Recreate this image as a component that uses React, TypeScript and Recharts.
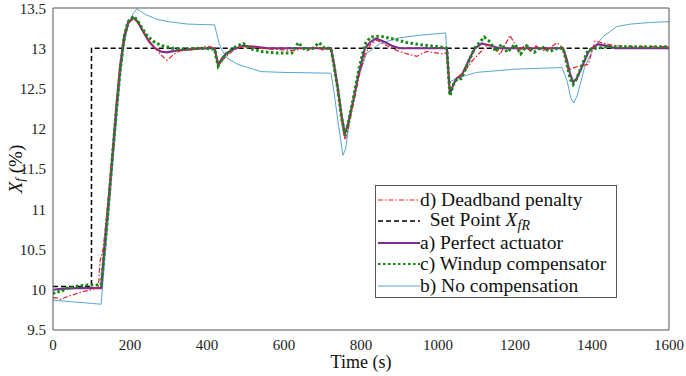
import React from 'react';
import { LineChart, Line, XAxis, YAxis, Legend } from 'recharts';

const xTicks = [0, 200, 400, 600, 800, 1000, 1200, 1400, 1600];
const yTicks = [9.5, 10, 10.5, 11, 11.5, 12, 12.5, 13, 13.5];

// set point X_fR
const setPointTime = [0, 100, 100, 1600];
const setPointValue = [10.04, 10.04, 13, 13];

// a) perfect actuator
const perfectTime = [0, 20, 60, 100, 125, 135, 145, 155, 165, 175, 185, 195, 208, 220, 235, 250, 265, 280, 295, 320, 360, 400, 420, 424, 429, 440, 451, 470, 494, 520, 560, 620, 680, 722, 730, 740, 750, 758, 766, 780, 795, 810, 825, 839, 860, 880, 900, 950, 1023, 1027, 1031, 1040, 1049, 1060, 1070, 1085, 1096, 1114, 1130, 1160, 1200, 1260, 1325, 1335, 1343, 1351, 1360, 1375, 1390, 1400, 1415, 1440, 1460, 1520, 1600];
const perfectValue = [10.0, 10.01, 10.02, 10.02, 10.02, 10.6, 11.15, 11.7, 12.3, 12.8, 13.15, 13.32, 13.38, 13.33, 13.2, 13.08, 13.0, 12.96, 12.95, 12.97, 12.99, 13.0, 13.0, 12.9, 12.79, 12.88, 12.94, 12.99, 13.03, 13.02, 13.0, 13.0, 13.0, 13.0, 12.8, 12.5, 12.15, 11.94, 12.05, 12.35, 12.7, 13.0, 13.08, 13.12, 13.08, 13.03, 13.0, 13.0, 13.0, 12.7, 12.43, 12.55, 12.63, 12.65, 12.75, 12.9, 13.0, 13.06, 13.04, 13.0, 13.0, 13.0, 13.0, 12.85, 12.68, 12.58, 12.62, 12.78, 12.95, 13.0, 13.05, 13.03, 13.0, 13.0, 13.0];

// c) windup compensator
const windupTime = [0, 10, 20, 35, 50, 70, 90, 110, 125, 135, 145, 155, 165, 175, 185, 195, 210, 225, 245, 265, 285, 310, 340, 380, 420, 424, 429, 440, 455, 475, 494, 510, 540, 580, 620, 637, 655, 675, 691, 705, 722, 730, 740, 750, 758, 766, 780, 795, 810, 825, 850, 880, 920, 960, 1000, 1023, 1027, 1031, 1040, 1050, 1060, 1075, 1095, 1120, 1135, 1150, 1165, 1180, 1200, 1215, 1230, 1250, 1270, 1290, 1310, 1325, 1335, 1343, 1351, 1360, 1375, 1390, 1410, 1440, 1500, 1600];
const windupValue = [9.95, 9.98, 9.97, 10.02, 10.03, 10.05, 10.06, 10.06, 10.06, 10.55, 11.1, 11.7, 12.25, 12.75, 13.15, 13.33, 13.4, 13.3, 13.15, 13.07, 13.03, 13.0, 12.99, 13.0, 12.99, 12.88, 12.78, 12.87, 12.95, 13.02, 13.06, 13.0, 12.96, 12.94, 12.94, 13.07, 12.98, 13.0, 13.07, 13.0, 13.0, 12.78, 12.48, 12.12, 11.92, 12.05, 12.38, 12.75, 13.05, 13.14, 13.15, 13.12, 13.07, 13.04, 13.02, 13.0, 12.7, 12.41, 12.55, 12.62, 12.62, 12.78, 13.0, 13.14, 13.08, 12.96, 13.05, 12.95, 13.05, 12.93, 13.03, 12.95, 13.02, 12.96, 13.0, 13.0, 12.8, 12.62, 12.55, 12.62, 12.8, 12.98, 13.0, 13.02, 13.02, 13.02];

// d) deadband penalty
const deadbandTime = [0, 10, 20, 40, 60, 80, 100, 110, 118, 122, 130, 140, 150, 160, 170, 180, 190, 200, 210, 225, 245, 265, 280, 296, 315, 335, 360, 380, 400, 415, 420, 424, 429, 440, 451, 470, 490, 520, 560, 600, 630, 645, 660, 680, 700, 722, 730, 740, 750, 758, 766, 780, 795, 810, 825, 841, 860, 880, 900, 920, 945, 970, 1000, 1015, 1023, 1027, 1031, 1040, 1049, 1060, 1075, 1090, 1110, 1130, 1145, 1161, 1175, 1187, 1200, 1210, 1225, 1240, 1255, 1270, 1290, 1309, 1325, 1338, 1360, 1390, 1408, 1425, 1460, 1520, 1600];
const deadbandValue = [9.9, 9.9, 9.88, 9.92, 9.95, 9.98, 10.0, 10.02, 10.02, 10.35, 10.5, 10.95, 11.45, 12.0, 12.55, 12.95, 13.2, 13.33, 13.37, 13.3, 13.12, 13.0, 12.92, 12.85, 12.93, 12.98, 12.98, 13.0, 13.03, 13.01, 13.0, 12.88, 12.78, 12.85, 12.9, 12.98, 13.02, 13.01, 12.99, 12.98, 12.97, 13.0, 12.97, 13.02, 12.98, 12.99, 12.75, 12.45, 12.1, 11.86, 11.98, 12.3, 12.65, 12.92, 13.05, 13.1, 13.05, 13.0, 12.96, 12.93, 12.9, 12.96, 12.94, 12.93, 12.95, 12.7, 12.43, 12.55, 12.63, 12.68, 12.75, 12.85, 12.95, 13.05, 13.0, 12.92, 13.05, 13.16, 13.05, 12.95, 13.04, 12.96, 13.03, 12.97, 13.0, 13.07, 13.0, 12.73, 12.77, 12.8, 13.09, 13.07, 13.03, 13.02, 13.02];

// b) no compensation
const noCompTime = [0, 50, 100, 125, 135, 145, 155, 165, 175, 185, 195, 208, 218, 240, 270, 300, 350, 420, 425, 432, 440, 451, 480, 540, 600, 722, 730, 740, 753, 760, 770, 790, 815, 850, 900, 950, 1020, 1023, 1030, 1050, 1100, 1200, 1322, 1335, 1345, 1353, 1362, 1380, 1403, 1430, 1465, 1500, 1550, 1600];
const noCompValue = [9.87, 9.85, 9.83, 9.82, 10.4, 10.95, 11.55, 12.1, 12.65, 13.05, 13.28, 13.43, 13.49, 13.42, 13.36, 13.33, 13.3, 13.29, 13.18, 13.05, 12.97, 12.88, 12.8, 12.71, 12.7, 12.69, 12.45, 12.1, 11.67, 11.75, 12.1, 12.6, 12.94, 13.06, 13.13, 13.16, 13.19, 12.9, 12.58, 12.63, 12.7, 12.74, 12.76, 12.6, 12.38, 12.32, 12.42, 12.75, 13.0, 13.15, 13.27, 13.3, 13.32, 13.33];

const zip = (ts: number[], vs: number[]) => ts.map((t, i) => ({ t, v: vs[i] }));

const FONT = "'Liberation Serif', 'DejaVu Serif', serif";
const AXIS = '#555';

const css = `
.fig, .fig * { font-family: ${FONT} !important; }
.fig .recharts-cartesian-axis-tick-value { font-size: 15px !important; fill: #222; }
`;

const sub = { fontSize: '0.72em', fontStyle: 'italic', verticalAlign: '-0.3em' } as const;

const series = {
  b: { name: 'b) No compensation', data: zip(noCompTime, noCompValue), color: '#5aa5d0', width: 1, dash: undefined as string | undefined, label: <>b) No compensation</> },
  sp: { name: 'Set Point', data: zip(setPointTime, setPointValue), color: '#000', width: 1.5, dash: '5 3', label: <>&nbsp;&nbsp;Set Point <i>X</i><span style={sub}>fR</span></> },
  a: { name: 'a) Perfect actuator', data: zip(perfectTime, perfectValue), color: '#7e2f8e', width: 2.2, dash: undefined, label: <>a) Perfect actuator</> },
  d: { name: 'd) Deadband penalty', data: zip(deadbandTime, deadbandValue), color: '#e8202a', width: 1.2, dash: '5 2 1.5 2', label: <>d) Deadband penalty</> },
  c: { name: 'c) Windup compensator', data: zip(windupTime, windupValue), color: '#138a13', width: 3, dash: '2.5 2.5', label: <>c) Windup compensator</> },
};

const drawOrder = ['b', 'sp', 'a', 'd', 'c'] as const;
const legendOrder = ['d', 'sp', 'a', 'c', 'b'] as const;

const LegendBox = () => (
  <div style={{ width: 242, height: 113, boxSizing: 'border-box', border: `1px solid ${AXIS}`, background: '#fff', padding: '3px 0 0 1px', fontSize: 19.5, color: '#111' }}>
    {legendOrder.map((k) => {
      const s = series[k];
      return (
        <div key={k} style={{ display: 'flex', alignItems: 'center', height: 21.5, whiteSpace: 'nowrap' }}>
          <svg width={43} height={10} style={{ flex: 'none' }}>
            <line x1={1} y1={5} x2={43} y2={5} stroke={s.color} strokeWidth={Math.min(s.width, 2)} strokeDasharray={s.dash} />
          </svg>
          <span>{s.label}</span>
        </div>
      );
    })}
  </div>
);

const YLabel = (props: any) => {
  const vb = props.viewBox || { x: 0, y: 8, width: 53, height: 322 };
  const cx = 15;
  const cy = vb.y + vb.height / 2;
  return (
    <text x={cx} y={cy} transform={`rotate(-90 ${cx} ${cy})`} textAnchor="middle" dominantBaseline="central" fontSize={19} fill="#111">
      <tspan fontStyle="italic">X</tspan>
      <tspan fontStyle="italic" fontSize={13} dy={4}>f</tspan>
      <tspan dy={-4}> (%)</tspan>
    </text>
  );
};

const XLabel = (props: any) => {
  const vb = props.viewBox || { x: 53, y: 330, width: 616, height: 46 };
  return (
    <text x={vb.x + vb.width / 2} y={vb.y + 38} textAnchor="middle" fontSize={18} fill="#111">
      Time (s)
    </text>
  );
};

const blank = () => '';

export default function App() {
  return (
    <div className="fig" style={{ position: 'absolute', left: 0, top: 0, background: '#fff' }}>
      <style>{css}</style>
      <LineChart width={686} height={376} margin={{ top: 8, right: 17, bottom: 0, left: 0 }}>
        <XAxis dataKey="t" type="number" domain={[0, 1600]} ticks={xTicks} allowDataOverflow
          height={46} tickLine={false} tickSize={6} tickMargin={3} fontSize={15} stroke={AXIS} label={<XLabel />} />
        <XAxis xAxisId="bin" dataKey="t" type="number" domain={[0, 1600]} ticks={xTicks} orientation="bottom" mirror
          axisLine={false} tickSize={6} tickFormatter={blank} stroke={AXIS} />
        <XAxis xAxisId="top" dataKey="t" type="number" domain={[0, 1600]} ticks={xTicks} orientation="top" mirror
          tickSize={6} tickFormatter={blank} stroke={AXIS} />
        <YAxis type="number" domain={[9.5, 13.5]} ticks={yTicks} allowDataOverflow width={53}
          tickLine={false} tickSize={6} tickMargin={1} fontSize={15} stroke={AXIS} label={<YLabel />} />
        <YAxis yAxisId="lin" type="number" domain={[9.5, 13.5]} ticks={yTicks} orientation="left" mirror
          axisLine={false} tickSize={6} tickFormatter={blank} stroke={AXIS} />
        <YAxis yAxisId="right" type="number" domain={[9.5, 13.5]} ticks={yTicks} orientation="right" mirror
          tickSize={6} tickFormatter={blank} stroke={AXIS} />
        <Legend layout="vertical" align="center" verticalAlign="middle" content={<LegendBox />}
          wrapperStyle={{ left: 375, top: 185, width: 242, height: 113 }} />
        {drawOrder.map((k) => {
          const s = series[k];
          return (
            <Line key={k} name={s.name} data={s.data} dataKey="v" type="linear" stroke={s.color}
              strokeWidth={s.width} strokeDasharray={s.dash} dot={false} activeDot={false}
              isAnimationActive={false} />
          );
        })}
      </LineChart>
    </div>
  );
}
